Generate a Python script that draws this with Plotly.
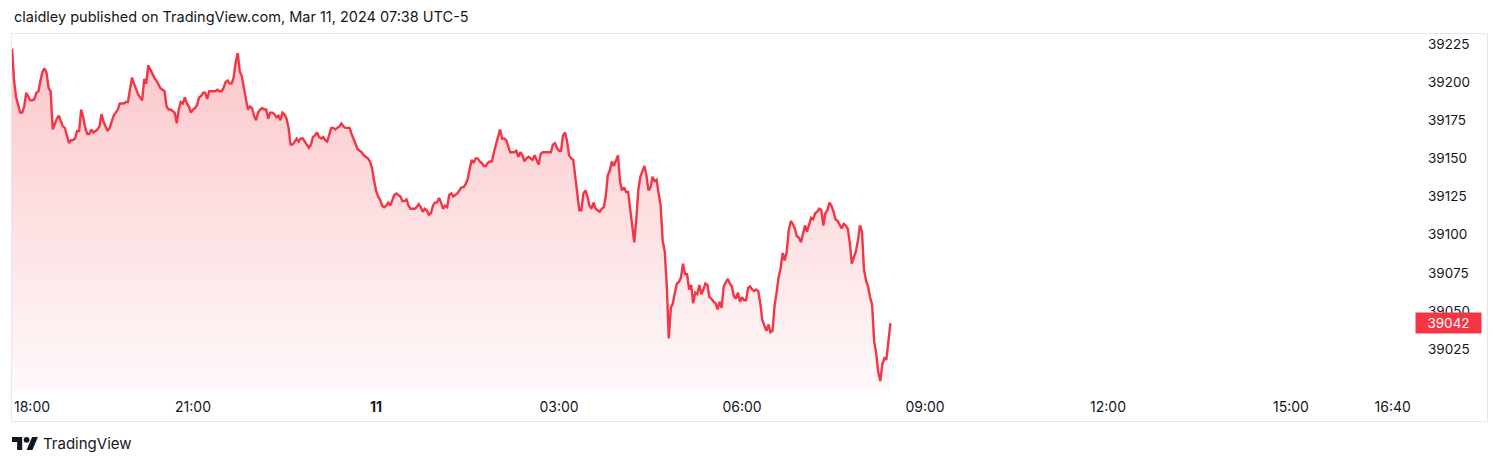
import pandas as pd
import plotly.graph_objects as go

# ---------------- data ----------------
series_start = "2024-03-10 18:02"
step = "2min"
prices = [
    39222, 39201, 39190, 39185, 39180, 39180, 39184, 39193, 39190, 39188, 39188, 39189, 39193, 39194, 39201, 39207, 39209, 39206, 39196, 39194,
    39169, 39173, 39176, 39178, 39175, 39171, 39170, 39165, 39160, 39162, 39162, 39163, 39168, 39168, 39182, 39177, 39170, 39166, 39166, 39169,
    39167, 39168, 39169, 39171, 39179, 39174, 39171, 39168, 39170, 39174, 39178, 39180, 39182, 39186, 39186, 39186, 39187, 39187, 39195, 39203,
    39199, 39195, 39192, 39190, 39188, 39202, 39199, 39211, 39208, 39206, 39203, 39201, 39198, 39196, 39195, 39194, 39184, 39182, 39182, 39181,
    39180, 39173, 39182, 39187, 39186, 39190, 39186, 39184, 39180, 39182, 39183, 39185, 39190, 39191, 39193, 39193, 39189, 39194, 39194, 39194,
    39194, 39195, 39194, 39194, 39196, 39200, 39201, 39199, 39199, 39203, 39213, 39219, 39207, 39204, 39195, 39189, 39182, 39184, 39183, 39178,
    39175, 39180, 39182, 39183, 39182, 39182, 39176, 39180, 39180, 39179, 39177, 39178, 39175, 39180, 39179, 39176, 39170, 39159, 39159, 39161,
    39163, 39161, 39163, 39163, 39161, 39159, 39157, 39159, 39164, 39165, 39167, 39164, 39163, 39164, 39162, 39161, 39166, 39170, 39170, 39169,
    39170, 39171, 39173, 39171, 39170, 39170, 39170, 39166, 39163, 39160, 39156, 39155, 39154, 39152, 39151, 39150, 39148, 39144, 39136, 39129,
    39125, 39123, 39119, 39118, 39119, 39121, 39119, 39123, 39126, 39127, 39126, 39125, 39122, 39122, 39123, 39119, 39117, 39117, 39117, 39118,
    39120, 39118, 39115, 39117, 39116, 39113, 39114, 39119, 39121, 39121, 39124, 39121, 39117, 39119, 39118, 39126, 39127, 39125, 39126, 39127,
    39129, 39131, 39131, 39133, 39136, 39142, 39149, 39147, 39150, 39150, 39148, 39147, 39145, 39145, 39147, 39148, 39148, 39154, 39160, 39164,
    39169, 39163, 39163, 39162, 39158, 39154, 39154, 39154, 39155, 39151, 39154, 39152, 39148, 39150, 39151, 39150, 39149, 39152, 39149, 39146,
    39153, 39154, 39154, 39154, 39154, 39154, 39159, 39160, 39157, 39155, 39155, 39165, 39167, 39161, 39152, 39150, 39149, 39137, 39124, 39116,
    39116, 39127, 39129, 39125, 39119, 39117, 39121, 39117, 39116, 39115, 39117, 39118, 39125, 39139, 39142, 39148, 39145, 39149, 39152, 39135,
    39129, 39131, 39128, 39128, 39116, 39108, 39095, 39110, 39129, 39138, 39142, 39145, 39139, 39129, 39131, 39138, 39135, 39136, 39127, 39119,
    39096, 39089, 39067, 39032, 39052, 39055, 39062, 39068, 39069, 39072, 39081, 39074, 39074, 39064, 39067, 39055, 39062, 39061, 39067, 39061,
    39064, 39068, 39067, 39059, 39058, 39056, 39055, 39051, 39056, 39052, 39066, 39069, 39071, 39068, 39066, 39060, 39058, 39062, 39056, 39059,
    39057, 39057, 39065, 39066, 39064, 39063, 39064, 39063, 39055, 39044, 39041, 39037, 39041, 39036, 39037, 39053, 39062, 39072, 39078, 39088,
    39083, 39089, 39103, 39109, 39107, 39104, 39099, 39098, 39095, 39100, 39106, 39102, 39107, 39111, 39110, 39114, 39115, 39117, 39116, 39106,
    39114, 39116, 39121, 39119, 39115, 39110, 39109, 39106, 39104, 39107, 39106, 39104, 39095, 39081, 39085, 39089, 39096, 39106, 39102, 39077,
    39070, 39066, 39059, 39054, 39030, 39022, 39010, 39004, 39015, 39019, 39018, 39031, 39042,
]
times = pd.date_range(series_start, periods=len(prices), freq=step)

y_tick_values = [39025, 39050, 39075, 39100, 39125, 39150, 39175, 39200, 39225]
x_tick_times = ["2024-03-10 21:00", "2024-03-11 00:00", "2024-03-11 03:00", "2024-03-11 06:00",
                "2024-03-11 09:00", "2024-03-11 12:00", "2024-03-11 15:00", "2024-03-11 16:40"]
x_tick_labels = ["21:00", "<b>11</b>", "03:00", "06:00", "09:00", "12:00", "15:00", "16:40"]
first_time_label = "18:00"
header_text = "claidley published on TradingView.com, Mar 11, 2024 07:38 UTC-5"
footer_text = "TradingView"
last_price = prices[-1]

# ---------------- layout geometry ----------------
W, H = 1500, 465
L, R, T, B = 12, 1415, 33, 391
x_range = ["2024-03-10 18:01:58", "2024-03-11 17:01:58"]
y_range = [38997.5, 39232.2]

RED = "#F23645"
TEXT = "#131722"
FONT = "Inter, 'Open Sans', sans-serif"


def px(p):
    return (p - L) / (R - L)


def py(p):
    return (B - p) / (B - T)


fig = go.Figure()
fig.add_trace(go.Scatter(
    x=times, y=prices, mode="lines",
    line=dict(color=RED, width=2.4),
    fill="tozeroy",
    fillgradient=dict(type="vertical",
                      colorscale=[[0, "rgba(242,54,69,0.03)"], [1, "rgba(242,54,69,0.28)"]],
                      start=y_range[0], stop=max(prices)),
    hoverinfo="skip", showlegend=False,
))

shapes = [
    dict(type="rect", xref="paper", yref="paper",
         x0=px(11.5), x1=px(1487.5), y0=py(421.5), y1=py(33.5),
         line=dict(color="#E6E8EE", width=1), layer="above"),
]

# TradingView logo (pixel-space outline)
s = 0.73
ox, oy = 12, 434.0


def logo_path(pts):
    parts = []
    for i, (u, v) in enumerate(pts):
        parts.append(("M" if i == 0 else "L") + f"{px(ox + s * u):.6f},{py(oy + s * v):.6f}")
    return " ".join(parts) + " Z"


shapes.append(dict(type="path", xref="paper", yref="paper",
                   path=logo_path([(14, 22), (7, 22), (7, 11), (0, 11), (0, 4), (14, 4)]),
                   fillcolor=TEXT, line=dict(width=0)))
shapes.append(dict(type="path", xref="paper", yref="paper",
                   path=logo_path([(28, 22), (20, 22), (27.5, 4), (35.5, 4)]),
                   fillcolor=TEXT, line=dict(width=0)))
shapes.append(dict(type="circle", xref="paper", yref="paper",
                   x0=px(ox + s * 16), x1=px(ox + s * 24), y0=py(oy + s * 12), y1=py(oy + s * 4),
                   fillcolor=TEXT, line=dict(width=0)))

annotations = [
    dict(text=header_text, xref="paper", yref="paper", x=px(12), y=py(17),
         xanchor="left", yanchor="middle", showarrow=False,
         font=dict(family=FONT, size=14.5, color=TEXT)),
    dict(text=footer_text, xref="paper", yref="paper", x=px(41), y=py(443),
         xanchor="left", yanchor="middle", showarrow=False,
         font=dict(family=FONT, size=15, color=TEXT)),
    dict(text=first_time_label, xref="paper", yref="paper", x=px(12), y=py(406),
         xanchor="left", yanchor="middle", showarrow=False,
         font=dict(family=FONT, size=14, color=TEXT)),
    dict(text=str(last_price), xref="paper", yref="y", x=1.0, y=last_price,
         xanchor="left", yanchor="middle", showarrow=False,
         bgcolor=RED, width=61, height=16, borderpad=2, align="center",
         font=dict(family=FONT, size=13.5, color="white")),
]

fig.update_layout(
    width=W, height=H,
    margin=dict(l=L, r=W - R, t=T, b=H - B, pad=0),
    paper_bgcolor="white", plot_bgcolor="white",
    showlegend=False,
    shapes=shapes, annotations=annotations,
    xaxis=dict(type="date", range=x_range, showgrid=False, zeroline=False, showline=False,
               ticks="", tickvals=x_tick_times, ticktext=x_tick_labels,
               tickfont=dict(family=FONT, size=14, color=TEXT), ticklabelstandoff=6,
               fixedrange=True),
    yaxis=dict(range=y_range, side="right", showgrid=False, zeroline=False, showline=False,
               ticks="", tickvals=y_tick_values, ticktext=[str(v) for v in y_tick_values],
               tickfont=dict(family=FONT, size=13.5, color=TEXT), ticklabelstandoff=12,
               fixedrange=True),
)

fig.write_html("out.html", config={"displayModeBar": False},
               post_script="document.body.style.margin='0px';document.body.style.padding='0px';")
